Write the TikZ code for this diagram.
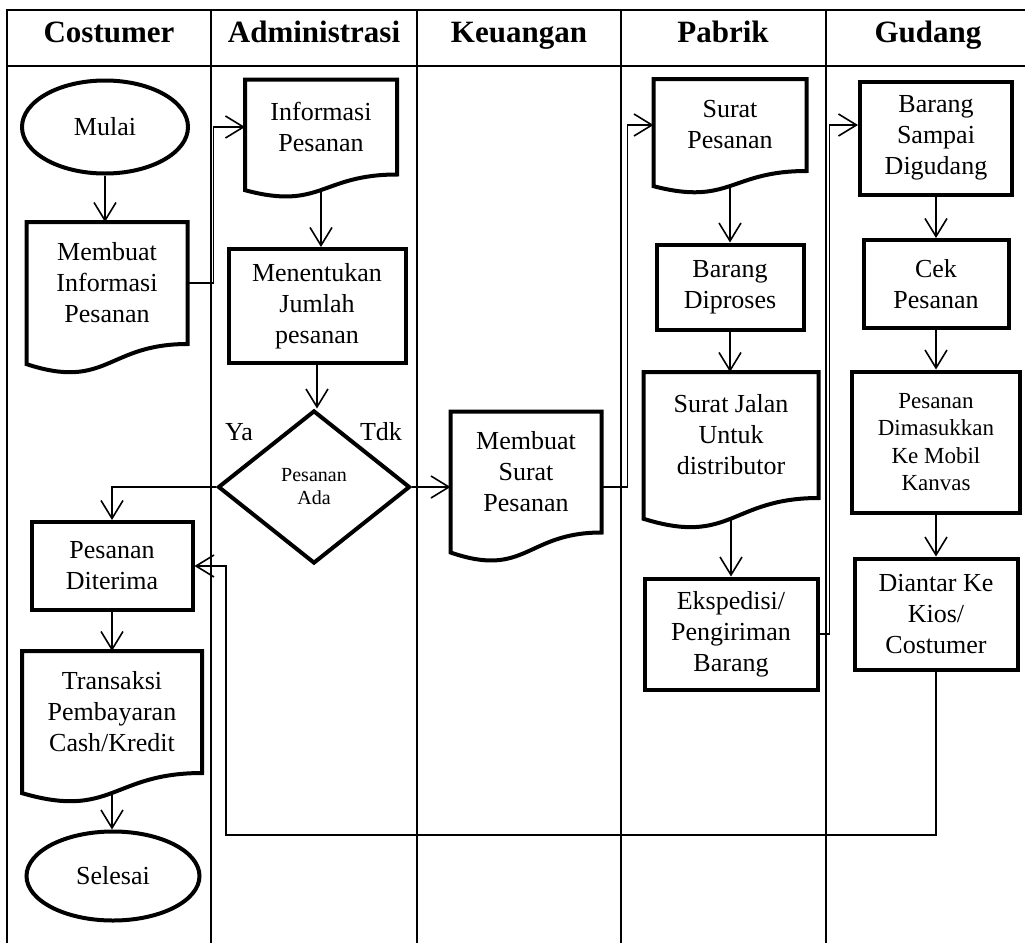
\documentclass[tikz,border=0pt]{standalone}
\usepackage{fontspec}
\setmainfont{Liberation Serif}
\usetikzlibrary{shapes.geometric,arrows.meta,calc}

\begin{document}
\begin{tikzpicture}[x=1pt, y=-1pt, >={Straight Barb[length=18pt,width=22pt]}]
        \tikzstyle{judul}=[font=\fontsize{31}{37}\selectfont\bfseries, anchor=base]
        \tikzstyle{proc}=[draw, line width=4pt, align=center, inner sep=0pt, font=\fontsize{26}{31}\selectfont]
        \tikzstyle{dok}=[proc, draw=none]
        \tikzstyle{term}=[proc, ellipse]
        \tikzstyle{kep}=[proc, diamond, font=\fontsize{20}{23}\selectfont]
        \tikzstyle{lbl}=[font=\fontsize{26}{31}\selectfont, anchor=base]
        \tikzstyle{garis}=[line width=1.6pt]

        \useasboundingbox (0,0) rectangle (1025,943);

        % kolom
        \draw[line width=1.8pt] (1025,10) -- (7,10) -- (7,943)
            (7,66) -- (1025,66);
        \foreach \x in {211,417,621,826}
            \draw[line width=1.8pt] (\x,10) -- (\x,943);

        \node[judul] (hcos) at (109,42) {Costumer};
        \node[judul] (hadm) at (314,42) {Administrasi};
        \node[judul] (hkeu) at (519,42) {Keuangan};
        \node[judul] (hpab) at (723,42) {Pabrik};
        \node[judul] (hgud) at (928,42) {Gudang};

        % costumer
        \node (mulai) [term, minimum width=166, minimum height=93] at (105,127) {Mulai};
        \node (buatinfo) [dok, minimum width=157, minimum height=118] at (107,283) {Membuat\\Informasi\\Pesanan};
        \node (diterima) [proc, minimum width=161, minimum height=88] at (112,566) {Pesanan\\Diterima};
        \node (transaksi) [dok, minimum width=176, minimum height=118] at (112,712) {Transaksi\\Pembayaran\\Cash/Kredit};
        \node (selesai) [term, minimum width=173, minimum height=89] at (113,876) {Selesai};

        % administrasi
        \node (info) [dok, minimum width=148, minimum height=91] at (321,127) {Informasi\\Pesanan};
        \node (jumlah) [proc, minimum width=177, minimum height=114] at (317,306) {Menentukan\\Jumlah\\pesanan};
        \node (ada) [kep, minimum width=192, minimum height=153] at (314,487) {Pesanan\\Ada};
        \node (ya) [lbl] at (239,440) {Ya};
        \node (tdk) [lbl] at (381,440) {Tdk};

        % keuangan
        \node (suratbuat) [dok, minimum width=147, minimum height=117] at (526,472) {Membuat\\Surat\\Pesanan};

        % pabrik
        \node (surat) [dok, minimum width=149, minimum height=88] at (730,125) {Surat\\Pesanan};
        \node (proses) [proc, minimum width=147, minimum height=85] at (730,287) {Barang\\Diproses};
        \node (jalan) [dok, minimum width=171, minimum height=122] at (731,435) {Surat Jalan\\Untuk\\distributor};
        \node (kirim) [proc, minimum width=173, minimum height=111] at (731,634) {Ekspedisi/\\Pengiriman\\Barang};

        % gudang
        \node (sampai) [proc, minimum width=152, minimum height=113] at (936,138) {Barang\\Sampai\\Digudang};
        \node (cek) [proc, minimum width=145, minimum height=88] at (936,284) {Cek\\Pesanan};
        \node (mobil) [proc, minimum width=168, minimum height=141, font=\fontsize{23}{27.5}\selectfont] at (936,442) {Pesanan\\Dimasukkan\\Ke Mobil\\Kanvas};
        \node (diantar) [proc, minimum width=163, minimum height=111] at (936,614) {Diantar Ke\\Kios/\\Costumer};

        % bentuk dokumen
        \foreach \d in {buatinfo,transaksi,info,suratbuat,surat,jalan}
            \draw[line width=4pt] (\d.north west) -- (\d.north east) -- (\d.south east)
                .. controls (\d.south) and ($(\d.south)!-0.381!(\d.north)$) ..
                ($(\d.south west)!-0.165!(\d.north west)$) -- cycle;

        \coordinate (balik) at (226,835);

        \draw[garis, ->] (mulai.south) -- (mulai.south |- buatinfo.north);
        \draw[garis, ->] (buatinfo.east) -- ++(26,0) |- (info.west);
        \draw[garis, ->] ($(info.south)!-0.163!(info.north)$) -- (info.south |- jumlah.north);
        \draw[garis, ->] (jumlah.south) -- (jumlah.south |- ada.north);
        \draw[garis, ->] (ada.west) -| (diterima.north);
        \draw[garis, ->] (diterima.south) -- (diterima.south |- transaksi.north);
        \draw[garis, ->] ($(transaksi.south)!-0.163!(transaksi.north)$) -- (transaksi.south |- selesai.north);
        \draw[garis, ->] (ada.east) -- (ada.east -| suratbuat.west);
        \draw[garis, ->] (suratbuat.east |- ada.east) -- ++(26,0) |- (surat.west);
        \draw[garis, ->] ($(surat.south)!-0.163!(surat.north)$) -- (surat.south |- proses.north);
        \draw[garis, ->] (proses.south) -- (proses.south |- jalan.north);
        \draw[garis, ->] ($(jalan.south)!-0.163!(jalan.north)$) -- (jalan.south |- kirim.north);
        \draw[garis, ->] (kirim.east) -- ++(10,0) |- (sampai.west |- surat.west);
        \draw[garis, ->] (sampai) -- (cek);
        \draw[garis, ->] (cek) -- (mobil);
        \draw[garis, ->] (mobil) -- (diantar);
        \draw[garis, ->] (diantar.south) |- (balik) |- (diterima.east);
\end{tikzpicture}
\end{document}
